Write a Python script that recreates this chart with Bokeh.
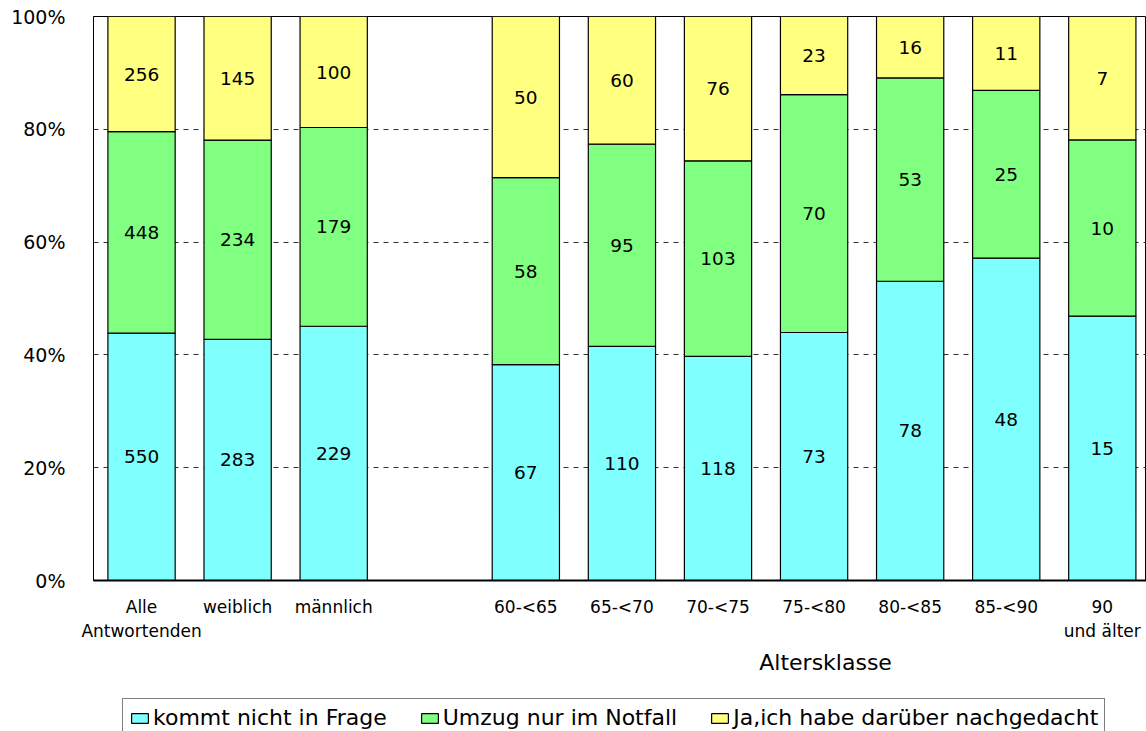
from bokeh.plotting import figure
from bokeh.layouts import column
from bokeh.models import (ColumnDataSource, Range1d, FixedTicker, NumeralTickFormatter,
                          Legend, LegendItem, LinearAxis)
from bokeh.core.properties import value
from bokeh.embed import file_html
from bokeh.resources import INLINE

# ---- data ----
categories = ["Alle\nAntwortenden", "weiblich", "männlich",
              "60-<65", "65-<70", "70-<75", "75-<80", "80-<85", "85-<90", "90\nund älter"]
slots = [0, 1, 2, 4, 5, 6, 7, 8, 9, 10]
kommt_nicht = [550, 283, 229, 67, 110, 118, 73, 78, 48, 15]
umzug_notfall = [448, 234, 179, 58, 95, 103, 70, 53, 25, 10]
ja_nachgedacht = [256, 145, 100, 50, 60, 76, 23, 16, 11, 7]
series_names = ["kommt nicht in Frage", "Umzug nur im Notfall", "Ja,ich habe darüber nachgedacht"]
colors = ["#80FFFF", "#80FF80", "#FFFF80"]
y_ticks = [0, 0.2, 0.4, 0.6, 0.8, 1.0]
x_title = "Altersklasse"
x_title_pos = 7.12   # centred over the age classes

FONT = "DejaVu Sans"

tot = [a + b + c for a, b, c in zip(kommt_nicht, umzug_notfall, ja_nachgedacht)]
p1 = [a / t for a, t in zip(kommt_nicht, tot)]
p2 = [b / t for b, t in zip(umzug_notfall, tot)]
p3 = [c / t for c, t in zip(ja_nachgedacht, tot)]

src = ColumnDataSource(dict(x=slots, s1=p1, s2=p2, s3=p3))

# ---------------- main chart ----------------
p = figure(width=1146, height=690, x_range=Range1d(-0.5, 10.46), y_range=Range1d(0, 1),
           min_border_left=93, min_border_right=0, min_border_top=16, min_border_bottom=110,
           output_backend="svg", toolbar_location=None, title=None)
p.background_fill_color = "white"
p.border_fill_color = "white"
p.outline_line_color = "black"
p.outline_line_width = 1

p.xgrid.visible = False
p.ygrid.ticker = FixedTicker(ticks=y_ticks)
p.ygrid.grid_line_color = "#333333"
p.ygrid.grid_line_dash = "5 5"
p.ygrid.grid_line_width = 1

p.vbar_stack(["s1", "s2", "s3"], x="x", width=0.7, source=src,
             fill_color=colors, line_color="black", line_width=1.2)

# segment labels
lx, ly, lt = [], [], []
for i, xx in enumerate(slots):
    a, b, c = p1[i], p2[i], p3[i]
    for mid, n in ((a / 2, kommt_nicht[i]), (a + b / 2, umzug_notfall[i]), (a + b + c / 2, ja_nachgedacht[i])):
        lx.append(xx)
        ly.append(mid)
        lt.append(str(n))
lsrc = ColumnDataSource(dict(x=lx, y=ly, t=lt))
p.text(x="x", y="y", text="t", source=lsrc, text_align="center", text_baseline="middle",
       text_font=value(FONT), text_font_size="18.5px", text_color="black")

# x axis
xa = p.xaxis[0]
xa.ticker = FixedTicker(ticks=slots)
xa.major_label_overrides = {s: c for s, c in zip(slots, categories)}
xa.major_tick_line_color = None
xa.minor_tick_line_color = None
xa.major_tick_out = 0
xa.major_tick_in = 0
xa.major_label_standoff = 16
xa.major_label_text_font = FONT
xa.major_label_text_font_size = "17px"
xa.major_label_text_color = "black"
xa.axis_line_color = "black"
xa.axis_line_width = 2

# second axis carrying only the axis title, centred over the age classes
xt = LinearAxis(ticker=FixedTicker(ticks=[x_title_pos]),
                major_label_overrides={x_title_pos: x_title},
                axis_line_color=None, major_tick_line_color=None, minor_tick_line_color=None,
                major_tick_out=0, major_tick_in=0, major_label_standoff=6,
                major_label_text_font=FONT, major_label_text_font_size="22px",
                major_label_text_color="black")
p.add_layout(xt, "below")

# y axis
ya = p.yaxis[0]
ya.ticker = FixedTicker(ticks=y_ticks)
ya.formatter = NumeralTickFormatter(format="0%")
ya.major_tick_line_color = None
ya.minor_tick_line_color = None
ya.major_tick_out = 0
ya.major_tick_in = 0
ya.major_label_standoff = 28
ya.major_label_text_font = FONT
ya.major_label_text_font_size = "19px"
ya.major_label_text_color = "black"
ya.axis_line_color = "black"

# ---------------- legend strip ----------------
pl = figure(width=1146, height=41, x_range=Range1d(-0.5, 10.46), y_range=Range1d(2, 3),
            min_border=0, min_border_left=0, min_border_right=0, min_border_top=0, min_border_bottom=0,
            output_backend="svg", toolbar_location=None, title=None)
pl.axis.visible = False
pl.grid.visible = False
pl.outline_line_color = None
pl.background_fill_color = "white"
pl.border_fill_color = "white"
leg_r = pl.vbar_stack(["s1", "s2", "s3"], x="x", width=0.7, source=src,
                      fill_color=colors, line_color="black", line_width=1.2)
for r in leg_r:
    r.visible = False

legend = Legend(items=[LegendItem(label=n, renderers=[r]) for n, r in zip(series_names, leg_r)],
                orientation="horizontal", location=(29, -6),
                label_text_font=FONT, label_text_font_size="22px", label_text_color="black",
                glyph_width=21, glyph_height=12, label_standoff=3, spacing=32, padding=6,
                margin=0, border_line_color="black", border_line_width=1,
                background_fill_color="white", background_fill_alpha=1)
pl.add_layout(legend, "center")

layout = column(p, pl, spacing=0)
open("out.html", "w").write(file_html(layout, INLINE))
